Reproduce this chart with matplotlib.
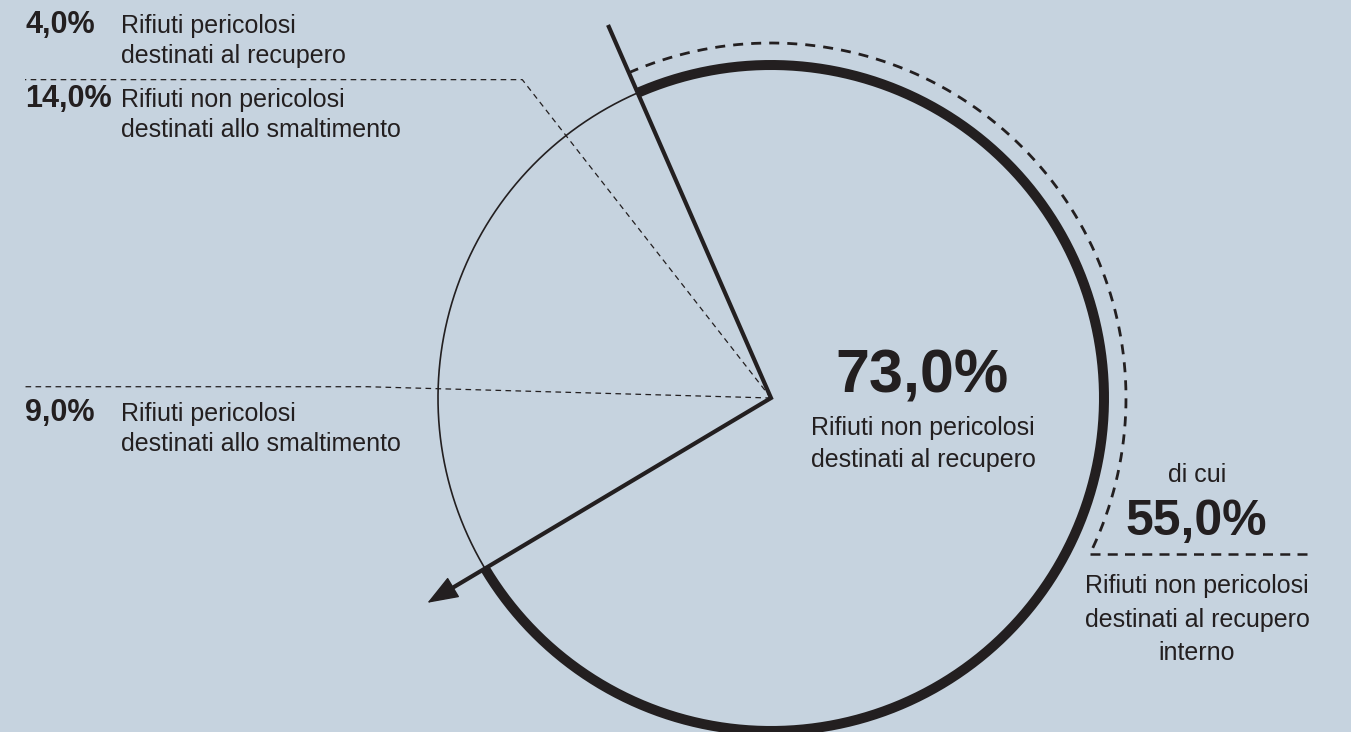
import numpy as np
import matplotlib.pyplot as plt

# shares of the waste, in percent
shares = [73.0, 4.0, 14.0, 9.0]
share_labels = ["73,0%", "4,0%", "14,0%", "9,0%"]
share_names = [
    ["Rifiuti non pericolosi", "destinati al recupero"],
    ["Rifiuti pericolosi", "destinati al recupero"],
    ["Rifiuti non pericolosi", "destinati allo smaltimento"],
    ["Rifiuti pericolosi", "destinati allo smaltimento"],
]
internal_label = "55,0%"
internal_names = ["Rifiuti non pericolosi", "destinati al recupero", "interno"]

W, H = 1351, 732
bg = "#c6d3df"
ink = "#231f20"
font = "Liberation Sans"

cx, cy, R = 771, 398, 333
start = 113.6        # angle where the big slice begins (degrees, counterclockwise)
note_end = -26       # where the dashed "di cui" arc stops


def pt(angle, r):
    a = np.radians(angle)
    return cx + r * np.cos(a), cy - r * np.sin(a)


fig = plt.figure(figsize=(W / 100, H / 100), dpi=100, facecolor=bg)
ax = fig.add_axes([0, 0, 1, 1])
ax.set_xlim(0, W)
ax.set_ylim(H, 0)
ax.set_facecolor(bg)
ax.axis("off")

# slice boundaries going counterclockwise from the start
bounds = start + np.cumsum([0] + [s * 3.6 for s in shares[1:]])
b0, b1, b2, b3 = bounds

# thick arc for the big slice, thin arc for the rest
th = np.linspace(b3 - 360, b0, 500)
ax.plot(*pt(th, R), color=ink, lw=7.2, solid_capstyle="butt")
th = np.linspace(b0, b3, 200)
ax.plot(*pt(th, R), color=ink, lw=1.2)

# dashed arc for the internal share
th = np.linspace(b0, note_end, 300)
ax.plot(*pt(th, R + 22), color=ink, lw=2, linestyle=(0, (3.6, 2.9)))
ex, ey = pt(note_end, R + 22)
ax.plot([ex, 1312], [ey, ey], color=ink, lw=1.8, linestyle=(0, (4, 2.9)))

# solid radial lines with the arrow
tx, ty = pt(b0, 405)
hx, hy = pt(b3, 400)
bx, by = pt(b3, 378)
ax.plot([tx, cx, bx], [ty, cy, by], color=ink, lw=3, solid_joinstyle="miter")
ax.annotate("", xy=(hx, hy), xytext=(bx, by),
            arrowprops=dict(arrowstyle="-|>,head_length=0.8,head_width=0.3",
                            mutation_scale=25, color=ink, lw=1,
                            shrinkA=0, shrinkB=0))

# dashed leaders for the small slices
for b in (b1, b2):
    lx, ly = pt(b, 404)
    ax.plot([cx, lx, 25], [cy, ly, ly], color=ink, lw=0.9,
            linestyle=(0, (4.5, 3.5)))

# left labels
left_rows = [(1, 33), (2, 107), (3, 421)]
for i, base in left_rows:
    ax.text(25, base, share_labels[i], fontsize=22, fontweight="bold",
            family=font, color=ink, va="baseline", ha="left")
    for k, line in enumerate(share_names[i]):
        ax.text(121, base + 30 * k, line, fontsize=18, family=font,
                color=ink, va="baseline", ha="left")

# big slice label
ax.text(922, 393, share_labels[0], fontsize=44, fontweight="bold",
        family=font, color=ink, va="baseline", ha="center")
for k, line in enumerate(share_names[0]):
    ax.text(923, 435 + 32 * k, line, fontsize=18, family=font,
            color=ink, va="baseline", ha="center")

# internal share label
ax.text(1197, 482, "di cui", fontsize=18, family=font, color=ink,
        va="baseline", ha="center")
ax.text(1196, 535, internal_label, fontsize=36, fontweight="bold",
        family=font, color=ink, va="baseline", ha="center")
for k, line in enumerate(internal_names):
    ax.text(1197, 593 + 33.5 * k, line, fontsize=18, family=font,
            color=ink, va="baseline", ha="center")

fig.savefig("out.png", dpi=100, facecolor=bg)
